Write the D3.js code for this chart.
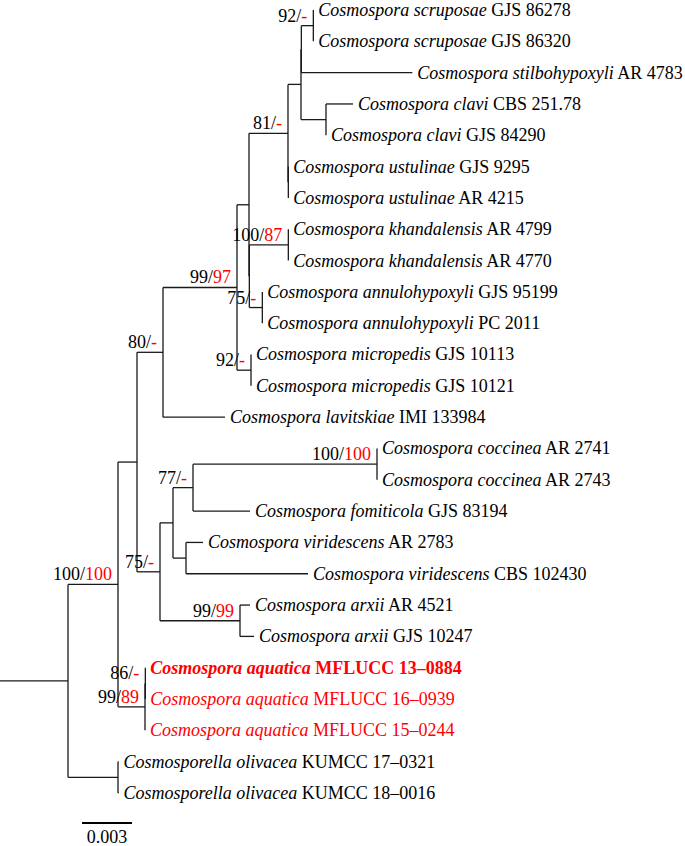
<!DOCTYPE html>
<html>
<head>
<meta charset="utf-8">
<script src="https://cdn.jsdelivr.net/npm/d3@7"></script>
<style>
  body { margin: 0; background: #fff; }
</style>
</head>
<body>
<div id="tree"></div>
<script>
// tree edges: child, parent, branch length (substitutions/site), listed top to bottom
var edges = [
  ["root", "", 0],
  ["nA", "root", 0.0030],
  ["nB", "nA", 0.00114],
  ["n80", "nB", 0.00156],
  ["n9997", "n80", 0.00444],
  ["nC1", "n9997", 0.00072],
  ["n81", "nC1", 0.00234],
  ["nD", "n81", 0.00078],
  ["nD2", "nD", 0.00002],
  ["n92", "nD2", 0.00072],
  ["scr1", "n92", 0],
  ["scr2", "n92", 0],
  ["stil", "nD2", 0.00666],
  ["nClavi", "nD", 0.0015],
  ["clav1", "nClavi", 0.00162],
  ["clav2", "nClavi", 0],
  ["nUst", "n81", 0.00002],
  ["ust1", "nUst", 0],
  ["ust2", "nUst", 0],
  ["nC2", "nC1", 0.00002],
  ["nKhan", "nC2", 0.00234],
  ["kha1", "nKhan", 0],
  ["kha2", "nKhan", 0],
  ["nAnnu", "nC2", 0.00078],
  ["ann1", "nAnnu", 0],
  ["ann2", "nAnnu", 0],
  ["nMicro", "n9997", 0.00084],
  ["mic1", "nMicro", 0],
  ["mic2", "nMicro", 0],
  ["lav", "n80", 0.00372],
  ["n75", "nB", 0.00138],
  ["nE", "n75", 0.00078],
  ["n77", "nE", 0.0012],
  ["nCocc", "n77", 0.01104],
  ["coc1", "nCocc", 0],
  ["coc2", "nCocc", 0],
  ["fom", "n77", 0.00342],
  ["nVir", "nE", 0.00078],
  ["vir1", "nVir", 0.00102],
  ["vir2", "nVir", 0.00732],
  ["nArx", "n75", 0.0048],
  ["arx1", "nArx", 0.0006],
  ["arx2", "nArx", 0.00084],
  ["nAq", "nA", 0.00162],
  ["nAq2", "nAq", 0.00002],
  ["aq1", "nAq2", 0],
  ["aq2", "nAq2", 0],
  ["aq3", "nAq", 0],
  ["nOliv", "root", 0.0030],
  ["oli1", "nOliv", 0.00003],
  ["oli2", "nOliv", 0.00003]
];

// leaf names: id, genus, epithet, strain
var taxa = [
  ["scr1", "Cosmospora", "scruposae", "GJS 86278"],
  ["scr2", "Cosmospora", "scruposae", "GJS 86320"],
  ["stil", "Cosmospora", "stilbohypoxyli", "AR 4783"],
  ["clav1", "Cosmospora", "clavi", "CBS 251.78"],
  ["clav2", "Cosmospora", "clavi", "GJS 84290"],
  ["ust1", "Cosmospora", "ustulinae", "GJS 9295"],
  ["ust2", "Cosmospora", "ustulinae", "AR 4215"],
  ["kha1", "Cosmospora", "khandalensis", "AR 4799"],
  ["kha2", "Cosmospora", "khandalensis", "AR 4770"],
  ["ann1", "Cosmospora", "annulohypoxyli", "GJS 95199"],
  ["ann2", "Cosmospora", "annulohypoxyli", "PC 2011"],
  ["mic1", "Cosmospora", "micropedis", "GJS 10113"],
  ["mic2", "Cosmospora", "micropedis", "GJS 10121"],
  ["lav", "Cosmospora", "lavitskiae", "IMI 133984"],
  ["coc1", "Cosmospora", "coccinea", "AR 2741"],
  ["coc2", "Cosmospora", "coccinea", "AR 2743"],
  ["fom", "Cosmospora", "fomiticola", "GJS 83194"],
  ["vir1", "Cosmospora", "viridescens", "AR 2783"],
  ["vir2", "Cosmospora", "viridescens", "CBS 102430"],
  ["arx1", "Cosmospora", "arxii", "AR 4521"],
  ["arx2", "Cosmospora", "arxii", "GJS 10247"],
  ["aq1", "Cosmospora", "aquatica", "MFLUCC 13\u20130884"],
  ["aq2", "Cosmospora", "aquatica", "MFLUCC 16\u20130939"],
  ["aq3", "Cosmospora", "aquatica", "MFLUCC 15\u20130244"],
  ["oli1", "Cosmosporella", "olivacea", "KUMCC 17\u20130321"],
  ["oli2", "Cosmosporella", "olivacea", "KUMCC 18\u20130016"]
];

// new strains (red) and the ex-type (bold)
var newTaxa = ["aq1", "aq2", "aq3"];
var typeTaxa = ["aq1"];

// support values: node, ML bootstrap, second value (red)
var supports = [
  ["n92", "92", "-"],
  ["n81", "81", "-"],
  ["nKhan", "100", "87"],
  ["nAnnu", "75", "-"],
  ["nMicro", "92", "-"],
  ["n9997", "99", "97"],
  ["n80", "80", "-"],
  ["nCocc", "100", "100"],
  ["n77", "77", "-"],
  ["n75", "75", "-"],
  ["nArx", "99", "99"],
  ["nAq2", "86", "-"],
  ["nAq", "99", "89"],
  ["nA", "100", "100"]
];

var scaleBar = 0.003;

var width = 685,
    height = 846,
    red = "#ff0000",
    ink = "#1a1a1a";

var root = d3.stratify()
    .id(function(d){ return d[0]; })
    .parentId(function(d){ return d[1]; })(edges);

// cumulative distance from root
root.eachBefore(function(n){
  n.dist = n.parent ? n.parent.dist + n.data[2] : 0;
});

var leaves = root.leaves();

var x = d3.scaleLinear().domain([0, scaleBar]).range([68, 118]);
var y = d3.scalePoint()
    .domain(leaves.map(function(d){ return d.id; }))
    .range([10, 793]);

root.eachAfter(function(n){
  n.px = x(n.dist);
  if (!n.children) n.py = y(n.id);
  else n.py = (n.children[0].py + n.children[n.children.length - 1].py) / 2;
});

var svg = d3.select("#tree").append("svg")
    .attr("width", width)
    .attr("height", height)
    .style("font-family", "'Liberation Serif', 'Times New Roman', serif")
    .style("font-size", "18px");

var g = svg.append("g")
    .attr("fill", "none")
    .attr("stroke", ink)
    .attr("stroke-width", 1.3);

// root stub
g.append("line")
    .attr("x1", 0).attr("x2", root.px)
    .attr("y1", root.py).attr("y2", root.py);

// horizontal branches
g.selectAll(".hbranch")
    .data(root.descendants().slice(1))
    .enter().append("line")
    .attr("class", "hbranch")
    .attr("x1", function(d){ return d.parent.px; })
    .attr("x2", function(d){ return d.px; })
    .attr("y1", function(d){ return d.py; })
    .attr("y2", function(d){ return d.py; });

// vertical connectors
g.selectAll(".vbranch")
    .data(root.descendants().filter(function(d){ return d.children; }))
    .enter().append("line")
    .attr("class", "vbranch")
    .attr("x1", function(d){ return d.px; })
    .attr("x2", function(d){ return d.px; })
    .attr("y1", function(d){ return d.children[0].py; })
    .attr("y2", function(d){ return d.children[d.children.length - 1].py; });

// leaf labels
var taxon = {};
taxa.forEach(function(t){ taxon[t[0]] = t; });

var lab = svg.selectAll(".leaf")
    .data(leaves)
    .enter().append("text")
    .attr("class", "leaf")
    .attr("x", function(d){ return d.px + 5; })
    .attr("y", function(d){ return d.py; })
    .attr("dy", "0.33em")
    .attr("fill", function(d){ return newTaxa.indexOf(d.id) >= 0 ? red : "#000"; })
    .style("font-weight", function(d){ return typeTaxa.indexOf(d.id) >= 0 ? "bold" : null; });

lab.append("tspan")
    .style("font-style", "italic")
    .text(function(d){ return taxon[d.id][1] + " " + taxon[d.id][2]; });
lab.append("tspan")
    .text(function(d){ return " " + taxon[d.id][3]; });

// support values
var byId = {};
root.each(function(n){ byId[n.id] = n; });

var sup = svg.selectAll(".support")
    .data(supports)
    .enter().append("text")
    .attr("class", "support")
    .attr("text-anchor", "end")
    .attr("x", function(d){ return byId[d[0]].px - 6; })
    .attr("y", function(d){ return byId[d[0]].py - 4; })
    .attr("fill", "#000");

sup.append("tspan").text(function(d){ return d[1] + "/"; });
sup.append("tspan").attr("fill", red).text(function(d){ return d[2]; });

// scale bar
var bar = svg.append("g").attr("transform", "translate(82,823)");
bar.append("line")
    .attr("x1", 0)
    .attr("x2", x(scaleBar) - x(0))
    .attr("stroke", "#000")
    .attr("stroke-width", 2);
bar.append("text")
    .attr("x", (x(scaleBar) - x(0)) / 2)
    .attr("y", 20)
    .attr("text-anchor", "middle")
    .text(d3.format(".3f")(scaleBar));
</script>
</body>
</html>
